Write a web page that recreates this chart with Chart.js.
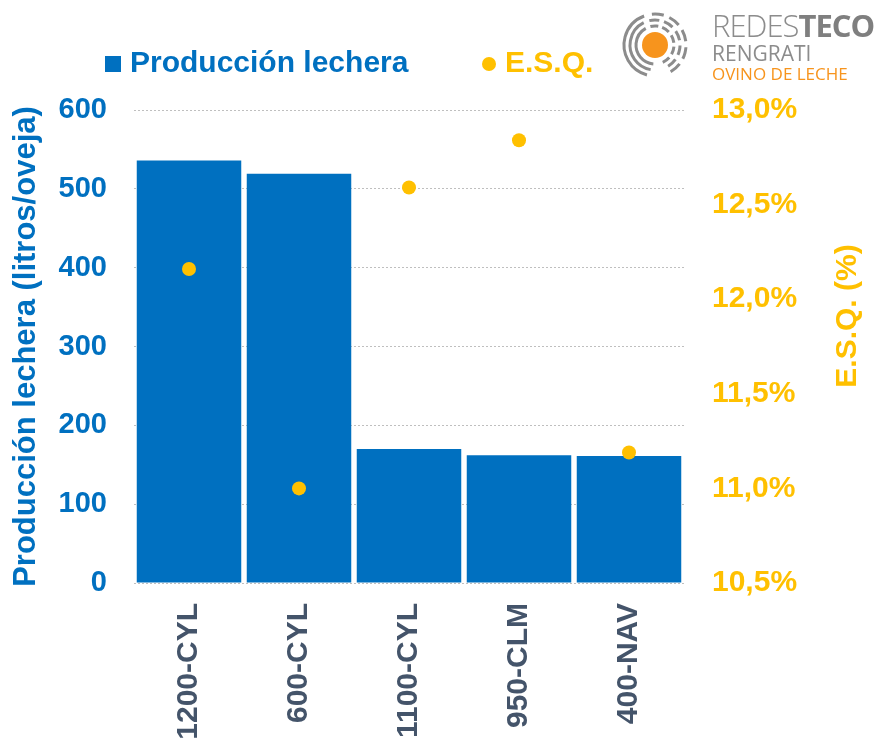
<!DOCTYPE html>
<html>
<head>
<meta charset="utf-8">
<script src="https://cdn.jsdelivr.net/npm/chart.js@4.4.1/dist/chart.umd.min.js"></script>
<style>
    html, body { margin: 0; padding: 0; background: #fff; }
    #wrap { position: relative; width: 882px; height: 740px; overflow: hidden; }
    #logo { position: absolute; left: 618px; top: 6px; width: 264px; height: 80px; }
    #logo svg { position: absolute; left: 0; top: 0; }
    #logo .txt { position: absolute; left: 94px; top: 2px; font-family: "Open Sans", sans-serif; color: #8c8c8c; white-space: nowrap; }
    #logo .l1 { font-size: 31px; line-height: 34px; letter-spacing: -1px; font-weight: 300; }
    #logo .l1 b { font-weight: 700; color: #7f7f7f; }
    #logo .l2 { font-size: 21px; line-height: 22px; }
    #logo .l3 { font-size: 17px; line-height: 20px; color: #f7941d; }
</style>
</head>
<body>
<div id="wrap">
    <canvas id="myChart" width="882" height="740"></canvas>
    <div id="logo">
        <svg width="80" height="80" viewBox="0 0 80 80">
            <circle cx="37" cy="39" r="13" fill="#f7941d"></circle>
            <g fill="none" stroke="#8c8c8c" stroke-width="3">
                <circle cx="37" cy="39" r="19" stroke-dasharray="48 5 8 4 8 4 8 4 8 4 8 20" transform="rotate(95 37 39)"></circle>
                <circle cx="37" cy="39" r="25" stroke-dasharray="62 6 10 5 10 5 10 5 10 5 10 30" transform="rotate(100 37 39)"></circle>
                <circle cx="37" cy="39" r="31" stroke-dasharray="78 8 12 6 12 6 12 6 12 6 12 40" transform="rotate(105 37 39)"></circle>
            </g>
        </svg>
        <div class="txt">
            <div class="l1">REDES<b>TECO</b></div>
            <div class="l2">RENGRATI</div>
            <div class="l3">OVINO DE LECHE</div>
        </div>
    </div>
</div>
<script>
// data
var categories = ['1200-CYL', '600-CYL', '1100-CYL', '950-CLM', '400-NAV'];
var produccion = [536, 519, 170, 162, 161];
var esq = [12.16, 11.0, 12.59, 12.84, 11.19];
var leftTicks = [0, 100, 200, 300, 400, 500, 600];
var rightTicks = [10.5, 11.0, 11.5, 12.0, 12.5, 13.0];

var BLUE = '#0070C0';
var GOLD = '#FFC000';
var FONT = '"Liberation Sans", Arial, sans-serif';

// format 12.5 -> "12,5%"
function formatPct(v) {
    return v.toFixed(1).replace('.', ',') + '%';
}

function setTicks(list) {
    return function (scale) {
        scale.ticks = list.map(function (v) { return { value: v }; });
    };
}

// legend across the top, drawn from the datasets
var topLegend = {
    id: 'topLegend',
    afterDraw: function (chart) {
        var ctx = chart.ctx;
        var sets = chart.data.datasets;
        var y = 64;
        ctx.save();
        ctx.font = 'bold 30px ' + FONT;
        ctx.textBaseline = 'middle';

        ctx.fillStyle = sets[0].backgroundColor;
        ctx.fillRect(105, y - 8, 16, 16);
        ctx.fillText(sets[0].label, 130, y);

        ctx.fillStyle = sets[1].backgroundColor;
        ctx.beginPath();
        ctx.arc(489, y, 7, 0, Math.PI * 2);
        ctx.fill();
        ctx.fillText(sets[1].label, 505, y);
        ctx.restore();
    }
};

// right axis title, reading bottom to top
var rightTitle = {
    id: 'rightTitle',
    afterDraw: function (chart) {
        var ctx = chart.ctx;
        ctx.save();
        ctx.translate(848, 316);
        ctx.rotate(-Math.PI / 2);
        ctx.font = 'bold 30px ' + FONT;
        ctx.fillStyle = GOLD;
        ctx.textAlign = 'center';
        ctx.textBaseline = 'middle';
        ctx.fillText('E.S.Q. (%)', 0, 0);
        ctx.restore();
    }
};

var ctx = document.getElementById('myChart').getContext('2d');
var myChart = new Chart(ctx, {
    type: 'bar',
    data: {
        labels: categories,
        datasets: [
            {
                label: 'Producción lechera',
                data: produccion,
                backgroundColor: BLUE,
                barPercentage: 0.95,
                categoryPercentage: 1.0,
                yAxisID: 'y',
                order: 2
            },
            {
                type: 'line',
                label: 'E.S.Q.',
                data: esq,
                showLine: false,
                backgroundColor: GOLD,
                borderColor: GOLD,
                pointRadius: 7,
                pointBorderWidth: 0,
                yAxisID: 'y1',
                order: 1
            }
        ]
    },
    options: {
        responsive: false,
        animation: false,
        layout: { padding: { top: 110, left: 0, right: 0, bottom: 0 } },
        plugins: {
            legend: { display: false },
            tooltip: { enabled: false }
        },
        scales: {
            x: {
                grid: { display: false },
                border: { display: false },
                ticks: {
                    color: '#44546A',
                    font: { family: FONT, size: 30, weight: 'bold' },
                    minRotation: 90,
                    maxRotation: 90,
                    autoSkip: false,
                    padding: 12
                },
                afterFit: function (scale) { scale.height = 157; }
            },
            y: {
                position: 'left',
                min: 0,
                max: 600,
                afterBuildTicks: setTicks(leftTicks),
                grid: { color: '#BFBFBF', drawTicks: false },
                border: { display: false, dash: [2, 2] },
                ticks: {
                    color: BLUE,
                    font: { family: FONT, size: 29, weight: 'bold' },
                    padding: 27
                },
                title: {
                    display: true,
                    text: 'Producción lechera (litros/oveja)',
                    color: BLUE,
                    font: { family: FONT, size: 31, weight: 'bold' },
                    padding: { top: 8, bottom: 0 }
                },
                afterFit: function (scale) { scale.width = 134; }
            },
            y1: {
                position: 'right',
                min: 10.5,
                max: 13.0,
                afterBuildTicks: setTicks(rightTicks),
                grid: { drawOnChartArea: false, drawTicks: false },
                border: { display: false },
                ticks: {
                    color: GOLD,
                    font: { family: FONT, size: 30, weight: 'bold' },
                    padding: 28,
                    callback: function (value) { return formatPct(value); }
                },
                afterFit: function (scale) { scale.width = 198; }
            }
        }
    },
    plugins: [topLegend, rightTitle]
});
</script>
</body>
</html>
